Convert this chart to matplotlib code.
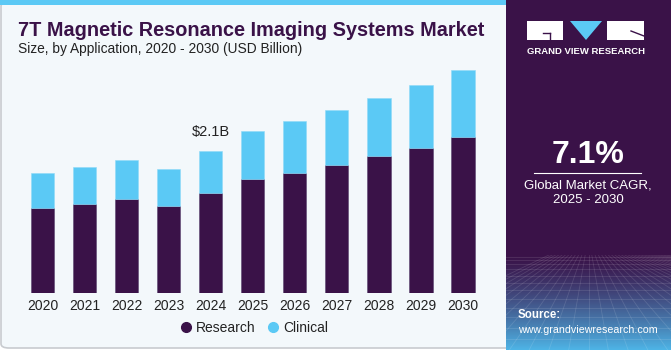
import numpy as np
import matplotlib
matplotlib.use("Agg")
import matplotlib.pyplot as plt
from matplotlib.patches import Rectangle, FancyBboxPatch, Polygon
from matplotlib.lines import Line2D

## Data (USD Billion)
years = ["2020", "2021", "2022", "2023", "2024", "2025", "2026", "2027", "2028", "2029", "2030"]
research = [1.26, 1.32, 1.39, 1.29, 1.48, 1.68, 1.78, 1.89, 2.02, 2.15, 2.30]
clinical = [0.51, 0.54, 0.58, 0.54, 0.62, 0.71, 0.76, 0.81, 0.86, 0.93, 1.00]
label_year = "2024"
label_text = "$2.1B"
cagr = "7.1%"

## Colours
c_research = "#3a1248"
c_clinical = "#5bc9f5"
c_panel = "#f3f8fb"
c_dark = "#3a1248"
c_text = "#222222"

W, H = 671, 350
fig = plt.figure(figsize=(W/100, H/100), dpi=100)
fig.patch.set_facecolor("white")

def fx(px):
    return px/W

def fy(py):
    ## py measured from top
    return 1 - py/H

## Left panel background + border
bg = FancyBboxPatch((fx(1), fy(348)), fx(520), fy(2) - fy(348),
                    boxstyle="round,pad=0,rounding_size=0.012",
                    transform=fig.transFigure, facecolor=c_panel,
                    edgecolor="#c8cbcf", linewidth=1.2, zorder=-5)
fig.patches.append(bg)
## top blue stripe
fig.patches.append(Rectangle((0, fy(5)), fx(506), fy(0) - fy(5),
                             transform=fig.transFigure, facecolor=c_clinical,
                             edgecolor="none", zorder=-4))

## Right panel
fig.patches.append(Rectangle((fx(506), 0), 1 - fx(506), 1,
                             transform=fig.transFigure, facecolor=c_dark,
                             edgecolor="none", zorder=-4))

## gradient at bottom of right panel
gax = fig.add_axes([fx(506), 0, 1 - fx(506), fy(255)])
gax.set_zorder(-3)
t = np.linspace(0, 1, 200)[:, None]
top = np.array([0x3a, 0x12, 0x48])/255.0
bot = np.array([0x4e, 0xb4, 0xe6])/255.0
grad = top[None, None, :]*(1 - t[..., None]**1.3) + bot[None, None, :]*(t[..., None]**1.3)
grad = np.repeat(grad, 2, axis=1)
gax.imshow(grad, aspect="auto", extent=[0, 1, 0, 1])
## faint perspective grid
for k in range(-12, 25):
    gax.plot([0.5 + k*0.02, 0.5 + k*0.12], [1.0, 0.0], color="white", alpha=0.12, lw=0.6)
for k in range(1, 14):
    yy = 1 - (k/13.0)**1.6
    gax.plot([0, 1], [yy, yy], color="white", alpha=0.12, lw=0.6)
gax.set_xlim(0, 1)
gax.set_ylim(0, 1)
gax.axis("off")

## Main bar axes
xlim = (-0.7, 10.7)
ymax = 3.6
ax = fig.add_axes([fx(13.1), fy(293.3), fx(479.4), fy(49.3) - fy(293.3)])
ax.set_facecolor("none")
x = np.arange(len(years))
ax.bar(x, research, width=0.55, color=c_research, edgecolor="#5a4470", linewidth=0.4,
       label="Research", zorder=2)
ax.bar(x, clinical, width=0.55, bottom=research, color=c_clinical, edgecolor="#8fdaf7",
       linewidth=0.4, label="Clinical", zorder=2)
ax.set_xlim(*xlim)
ax.set_ylim(0, ymax)
ax.set_xticks(x)
ax.set_xticklabels(years, fontsize=10, color=c_text, family="Liberation Sans")
ax.tick_params(axis="x", length=0, pad=4)
ax.set_yticks([])
for s in ax.spines.values():
    s.set_visible(False)

i = years.index(label_year)
ax.text(x[i], research[i] + clinical[i] + 0.17, label_text, ha="center", va="bottom",
        fontsize=10.5, color=c_text, family="Liberation Sans")

## Legend
handles = [Line2D([], [], marker="o", ls="", markersize=7, color=c_research),
           Line2D([], [], marker="o", ls="", markersize=7, color=c_clinical)]
ax.legend(handles, ["Research", "Clinical"], loc="center",
          bbox_to_anchor=(fx(252 - 13.1)/fx(479.4), (fy(328) - fy(293.3))/(fy(49.3) - fy(293.3))),
          ncol=2, frameon=False, handletextpad=0.0, columnspacing=0.6, handlelength=1.4,
          prop={"family": "Liberation Sans", "size": 10}, labelcolor=c_text)

## Titles
fig.text(fx(18), fy(30), "7T Magnetic Resonance Imaging Systems Market", fontsize=14.3,
         fontweight="bold", color=c_dark, va="center", ha="left", family="Liberation Sans")
fig.text(fx(18), fy(49), "Size, by Application, 2020 - 2030 (USD Billion)", fontsize=9.9,
         color=c_text, va="center", ha="left", family="Liberation Sans")

## Logo
fig.patches.append(Rectangle((fx(527), fy(40)), fx(36), fy(21) - fy(40),
                             transform=fig.transFigure, facecolor="white", edgecolor="none", zorder=3))
fig.patches.append(Polygon([(fx(570), fy(21)), (fx(602), fy(21)), (fx(586), fy(40))],
                           closed=True, transform=fig.transFigure, facecolor=c_clinical,
                           edgecolor="none", zorder=3))
fig.patches.append(Rectangle((fx(607), fy(40)), fx(37), fy(21) - fy(40),
                             transform=fig.transFigure, facecolor="white", edgecolor="none", zorder=3))
fig.lines.append(Line2D([fx(543), fx(550)], [fy(33), fy(33)], transform=fig.transFigure,
                        color=c_dark, lw=1, zorder=4))
fig.lines.append(Line2D([fx(550), fx(550)], [fy(33), fy(39)], transform=fig.transFigure,
                        color=c_dark, lw=1, zorder=4))
fig.lines.append(Line2D([fx(631), fx(644)], [fy(31), fy(36)], transform=fig.transFigure,
                        color=c_dark, lw=1, zorder=4))
fig.text(fx(586), fy(51), "GRAND VIEW RESEARCH", fontsize=6.8, fontweight="bold",
         color="white", ha="center", va="center", family="Liberation Sans")

## CAGR block
fig.text(fx(588), fy(155), cagr, fontsize=23, fontweight="bold", color="white",
         ha="center", va="center", family="Liberation Sans")
fig.lines.append(Line2D([fx(534), fx(641)], [fy(173), fy(173)], transform=fig.transFigure,
                        color="white", lw=0.8, zorder=4))
fig.text(fx(588), fy(185), "Global Market CAGR,", fontsize=9.5, color="white",
         ha="center", va="center", family="Liberation Sans")
fig.text(fx(588), fy(200), "2025 - 2030", fontsize=9.5, color="white",
         ha="center", va="center", family="Liberation Sans")

## Source
fig.text(fx(518), fy(315), "Source:", fontsize=8.3, fontweight="bold", color="white",
         ha="left", va="center", family="Liberation Sans")
fig.text(fx(518), fy(330), "www.grandviewresearch.com", fontsize=7.7, color="white",
         ha="left", va="center", family="Liberation Sans")

fig.savefig("out.png", dpi=100, facecolor=fig.get_facecolor())
